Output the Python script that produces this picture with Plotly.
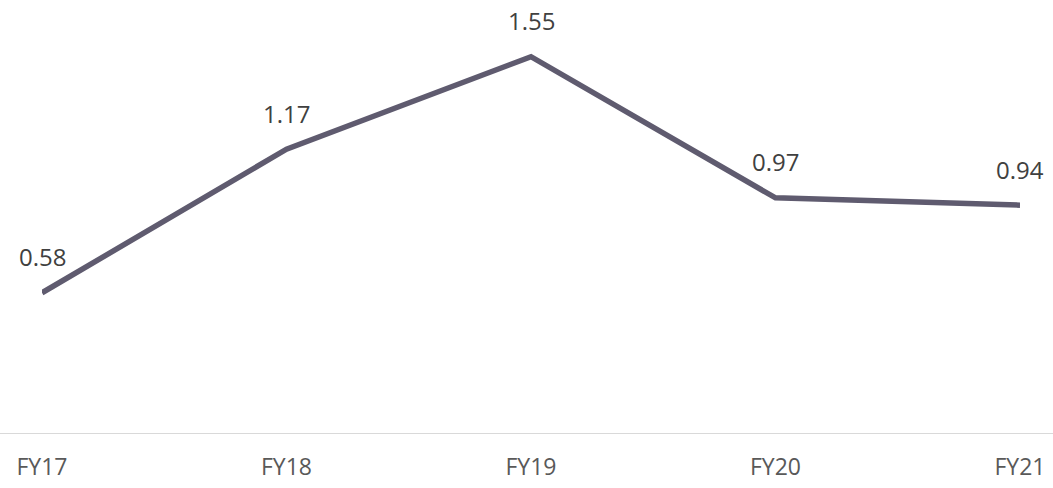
import plotly.graph_objects as go

categories = ["FY17", "FY18", "FY19", "FY20", "FY21"]
values = [0.58, 1.17, 1.55, 0.97, 0.94]
labels = ["0.58", "1.17", "1.55", "0.97", "0.94"]

fig = go.Figure()
fig.add_trace(go.Scatter(
    x=categories, y=values, mode="lines",
    line=dict(color="#5f5b6f", width=5.5),
    hoverinfo="skip", showlegend=False,
))

for c, v, t in zip(categories, values, labels):
    fig.add_annotation(x=c, y=v, text=t, showarrow=False, yshift=36,
                       font=dict(family="Open Sans", size=24, color="#404040"))

fig.add_shape(type="line", xref="paper", yref="y", x0=-0.05, x1=1.05, y0=0, y1=0,
              line=dict(color="#d9d9d9", width=2), layer="below")

fig.update_layout(
    width=1053, height=488,
    margin=dict(l=42, r=33, t=8, b=54, autoexpand=False),
    paper_bgcolor="white", plot_bgcolor="white",
    xaxis=dict(type="category", range=[0, 4], showgrid=False, zeroline=False,
               showline=False, ticks="", ticklabelstandoff=17, automargin=False,
               tickfont=dict(family="Open Sans", size=23, color="#595959")),
    yaxis=dict(range=[0, 1.75], visible=False, showgrid=False, zeroline=False,
               automargin=False),
)
fig.write_html("out.html", config={"displayModeBar": False},
               post_script="document.body.style.margin='0';document.body.style.overflow='hidden';")
